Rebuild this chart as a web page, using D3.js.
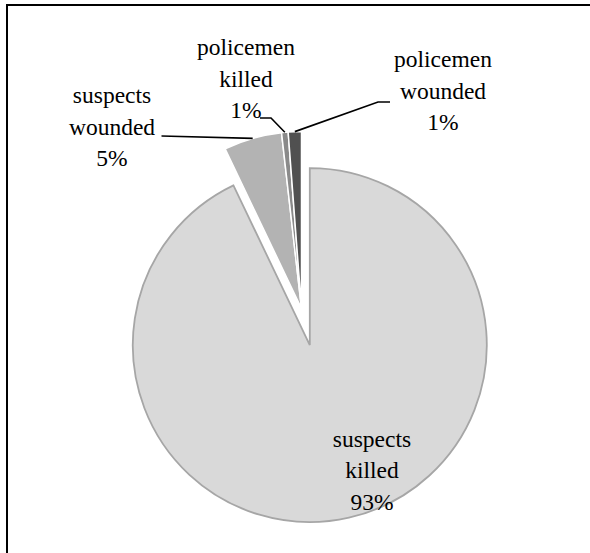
<!DOCTYPE html>
<html>
<head>
<meta charset="utf-8">
<script src="https://cdn.jsdelivr.net/npm/d3@7"></script>
<style>
  html, body { margin: 0; padding: 0; background: #fff; }
  svg { display: block; }
</style>
</head>
<body>
<svg id="chart" width="590" height="553"></svg>
<script>
// ---- data ----
const categories = ["suspects killed", "suspects wounded", "policemen killed", "policemen wounded"];
const values = [92.9, 5.3, 0.6, 1.2];
const labelWords = [["suspects", "killed"], ["suspects", "wounded"], ["policemen", "killed"], ["policemen", "wounded"]];

// ---- styles / layout ----
const palette = ["#d9d9d9", "#b3b3b3", "#8a8a8a", "#505050"];
const strokes = ["#a6a6a6", "#ffffff", "#ffffff", "#ffffff"];
const FONT = "'Liberation Serif'";
const W = 590, H = 553;
const cx = 301.5, cy = 308.5, R = 177;
const explode = [37.5, 0, 0, 0];
const lineH = 31.5;
// label anchors: centre x and first baseline, relative to pie centre
const labelLayout = [
  { dx: 70.5, dy: 138, leader: null },
  { dx: -189.5, dy: -205.5, leader: [[-140, -172.5]] },
  { dx: -55.5, dy: -253.5, leader: [[-41.5, -190.5], [-30.5, -190.5]] },
  { dx: 141.5, dy: -241.5, leader: [[88.5, -206.5], [76.5, -206.5]] }
];

const svg = d3.select("#chart");

// frame
svg.append("rect")
  .attr("x", 7).attr("y", 5).attr("width", 640).attr("height", 640)
  .attr("fill", "none").attr("stroke", "#000").attr("stroke-width", 2);

const total = d3.sum(values);
const pie = d3.pie().sort(null).value(d => d)(values);
const arc = d3.arc().innerRadius(0).outerRadius(R);

const g = svg.append("g").attr("transform", `translate(${cx},${cy})`);

const mid = d => (d.startAngle + d.endAngle) / 2;

g.selectAll("path.slice")
  .data(pie)
  .join("path")
  .attr("class", "slice")
  .attr("d", arc)
  .attr("transform", (d, i) => {
    const a = mid(d), e = explode[i];
    return `translate(${e * Math.sin(a)},${-e * Math.cos(a)})`;
  })
  .attr("fill", (d, i) => palette[i])
  .attr("stroke", (d, i) => strokes[i])
  .attr("stroke-width", (d, i) => i === 0 ? 1.8 : 1.5)
  .attr("stroke-linejoin", "miter");

// leader lines
pie.forEach((d, i) => {
  const L = labelLayout[i];
  if (!L.leader) return;
  const a = mid(d), e = explode[i];
  const tip = [(R + e) * Math.sin(a), -(R + e) * Math.cos(a)];
  const pts = L.leader.concat([tip]);
  g.append("path")
    .attr("d", d3.line()(pts))
    .attr("fill", "none")
    .attr("stroke", "#000")
    .attr("stroke-width", 1.6);
});

// labels
pie.forEach((d, i) => {
  const L = labelLayout[i];
  const pct = Math.round(values[i] / total * 100) + "%";
  const lines = labelWords[i].concat([pct]);
  const t = g.append("text")
    .attr("text-anchor", "middle")
    .attr("font-family", FONT)
    .attr("font-size", 23.5)
    .attr("fill", "#000")
    .attr("x", L.dx).attr("y", L.dy);
  lines.forEach((s, k) => {
    t.append("tspan").attr("x", L.dx).attr("y", L.dy + k * lineH).text(s);
  });
});
</script>
</body>
</html>
